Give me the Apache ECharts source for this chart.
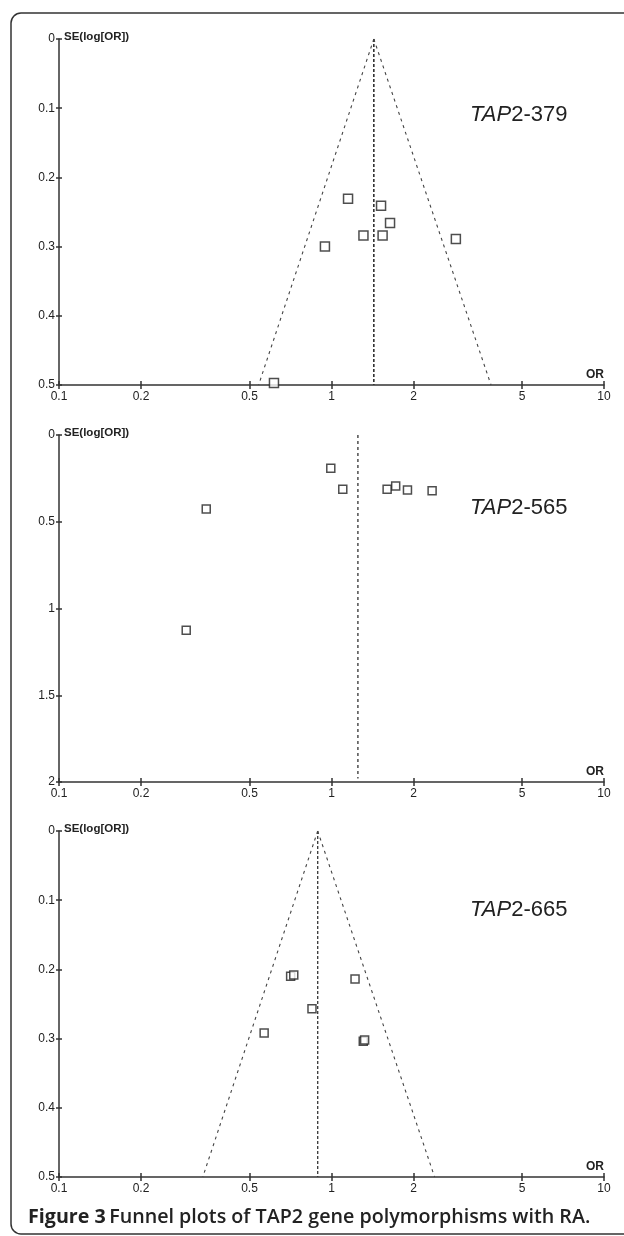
<!DOCTYPE html>
<html>
<head>
<meta charset="utf-8">
<script src="https://cdn.jsdelivr.net/npm/echarts@6/dist/echarts.min.js"></script>
<style>html,body{margin:0;padding:0;background:#fff}#c{width:624px;height:1236px}</style>
</head>
<body>
<div id="c"></div>
<script>
// ---- data ----
const xTicks = [0.1, 0.2, 0.5, 1, 2, 5, 10];
const seTicks1 = [0, 0.1, 0.2, 0.3, 0.4, 0.5];
const seTicks2 = [0, 0.5, 1, 1.5, 2];

// Panel 1: TAP2-379
const p1Label = ['TAP', '2-379'];
const p1OR = [1.15, 1.52, 1.64, 1.31, 1.54, 0.946, 2.86, 0.615];
const p1SE = [0.231, 0.241, 0.266, 0.284, 0.284, 0.300, 0.289, 0.497];
const p1Pooled = 1.43;
const p1Funnel = [0.54, 3.85];

// Panel 2: TAP2-565
const p2Label = ['TAP', '2-565'];
const p2OR = [0.994, 1.10, 1.60, 1.72, 1.90, 2.34, 0.347, 0.293];
const p2SE = [0.192, 0.313, 0.313, 0.294, 0.317, 0.321, 0.427, 1.125];
const p2Pooled = 1.25;
const p2LineEnd = 1.98;

// Panel 3: TAP2-665
const p3Label = ['TAP', '2-665'];
const p3OR = [0.708, 0.727, 1.22, 0.848, 0.566, 1.308, 1.323];
const p3SE = [0.210, 0.208, 0.214, 0.257, 0.292, 0.304, 0.302];
const p3Pooled = 0.89;
const p3Funnel = [0.337, 2.39];

const caption = ['Figure 3', 'Funnel plots of TAP2 gene polymorphisms with RA.'];

// ---- layout / style ----
const FONT = 'Liberation Sans';
const AX = '#333';
const grids = [
  {left: 59, top: 39, width: 545, height: 346},
  {left: 59, top: 435, width: 545, height: 347},
  {left: 59, top: 831, width: 545, height: 346}
];
const yMax = [0.5, 2, 0.5];
const yInt = [0.1, 0.5, 0.1];
const symSize = [9, 8, 8];

const xAxes = [], yAxes = [];
grids.forEach((g, i) => {
  [false, true].forEach(inside => {
    xAxes.push({
      type: 'log', logBase: 10, gridIndex: i, min: 0.1, max: 10, position: 'bottom',
      axisLine: {show: !inside, onZero: false, lineStyle: {color: AX, width: 1.5}},
      axisTick: {show: true, inside: inside, length: 4, customValues: xTicks, lineStyle: {color: AX, width: 1.5}},
      axisLabel: {show: !inside, customValues: xTicks, formatter: v => String(+(+v).toPrecision(3)),
        fontSize: 12, color: '#222', margin: 6, fontFamily: FONT},
      splitLine: {show: false}, minorTick: {show: false},
      name: inside ? '' : 'OR', nameLocation: 'end', nameGap: 0,
      nameTextStyle: {fontFamily: FONT, fontWeight: 'bold', fontSize: 12, color: '#222',
        align: 'right', verticalAlign: 'bottom', padding: [0, 0, 4, 0]}
    });
    yAxes.push({
      type: 'value', gridIndex: i, inverse: true, min: 0, max: yMax[i], interval: yInt[i], position: 'left',
      axisLine: {show: !inside, onZero: false, lineStyle: {color: AX, width: 1.5}},
      axisTick: {show: true, inside: inside, length: 3, lineStyle: {color: AX, width: 1.5}},
      axisLabel: {show: !inside, fontSize: 12, color: '#222', margin: 4, fontFamily: FONT},
      splitLine: {show: false},
      name: inside ? '' : 'SE(log[OR])', nameLocation: 'start', nameGap: 2,
      nameTextStyle: {fontFamily: FONT, fontWeight: 'bold', fontSize: 11.5, color: '#222',
        align: 'left', verticalAlign: 'middle', padding: [0, 0, 0, 5]}
    });
  });
});

function pts(ors, ses) { return ors.map((o, k) => [o, ses[k]]); }
function scatter(i, ors, ses) {
  return {type: 'scatter', xAxisIndex: 2 * i, yAxisIndex: 2 * i, data: pts(ors, ses),
    symbol: 'rect', symbolSize: symSize[i], z: 5,
    itemStyle: {color: '#fff', borderColor: '#222', borderWidth: 1.5}};
}
function dline(i, data, w, dash, color) {
  return {type: 'line', xAxisIndex: 2 * i, yAxisIndex: 2 * i, data: data, showSymbol: false,
    symbol: 'none', silent: true, z: 3,
    lineStyle: {color: color, width: w, type: dash}};
}

const series = [
  dline(0, [[p1Pooled, 0], [p1Pooled, 0.5]], 1.6, [3, 2], '#333'),
  dline(0, [[p1Pooled, 0], [p1Funnel[0], 0.5]], 1.1, [3, 4], '#444'),
  dline(0, [[p1Pooled, 0], [p1Funnel[1], 0.5]], 1.1, [3, 4], '#444'),
  scatter(0, p1OR, p1SE),
  dline(1, [[p2Pooled, 0], [p2Pooled, p2LineEnd]], 1.3, [3, 3], '#333'),
  scatter(1, p2OR, p2SE),
  dline(2, [[p3Pooled, 0], [p3Pooled, 0.5]], 1.3, [3, 2], '#333'),
  dline(2, [[p3Pooled, 0], [p3Funnel[0], 0.5]], 1.1, [3, 4], '#444'),
  dline(2, [[p3Pooled, 0], [p3Funnel[1], 0.5]], 1.1, [3, 4], '#444'),
  scatter(2, p3OR, p3SE)
];

const labelRich = {
  i: {fontFamily: FONT, fontStyle: 'italic', fontSize: 22, fill: '#222'},
  n: {fontFamily: FONT, fontSize: 22, fill: '#222'}
};
function panelLabel(parts, y) {
  return {type: 'text', left: 470, top: y,
    style: {text: '{i|' + parts[0] + '}{n|' + parts[1] + '}', rich: labelRich, fill: '#222'}};
}

const chart = echarts.init(document.getElementById('c'), null, {renderer: 'canvas'});
chart.setOption({
  animation: false,
  backgroundColor: '#fff',
  grid: grids.map(g => Object.assign({outerBoundsMode: 'none', containLabel: false}, g)),
  xAxis: xAxes,
  yAxis: yAxes,
  series: series,
  graphic: [
    {type: 'rect', shape: {x: 11, y: 13, width: 720, height: 1221, r: 10}, z: -1,
      style: {fill: 'none', stroke: '#333', lineWidth: 1.5}},
    panelLabel(p1Label, 104),
    panelLabel(p2Label, 497),
    panelLabel(p3Label, 899),
    {type: 'text', left: 28, top: 1207,
      style: {text: '{b|' + caption[0] + '} {n|' + caption[1] + '}',
        rich: {
          b: {fontFamily: 'Open Sans', fontWeight: 'bold', fontSize: 19.7, fill: '#222'},
          n: {fontFamily: 'Open Sans', fontWeight: 600, fontSize: 19.7, fill: '#222'}
        }}}
  ]
});
</script>
</body>
</html>
